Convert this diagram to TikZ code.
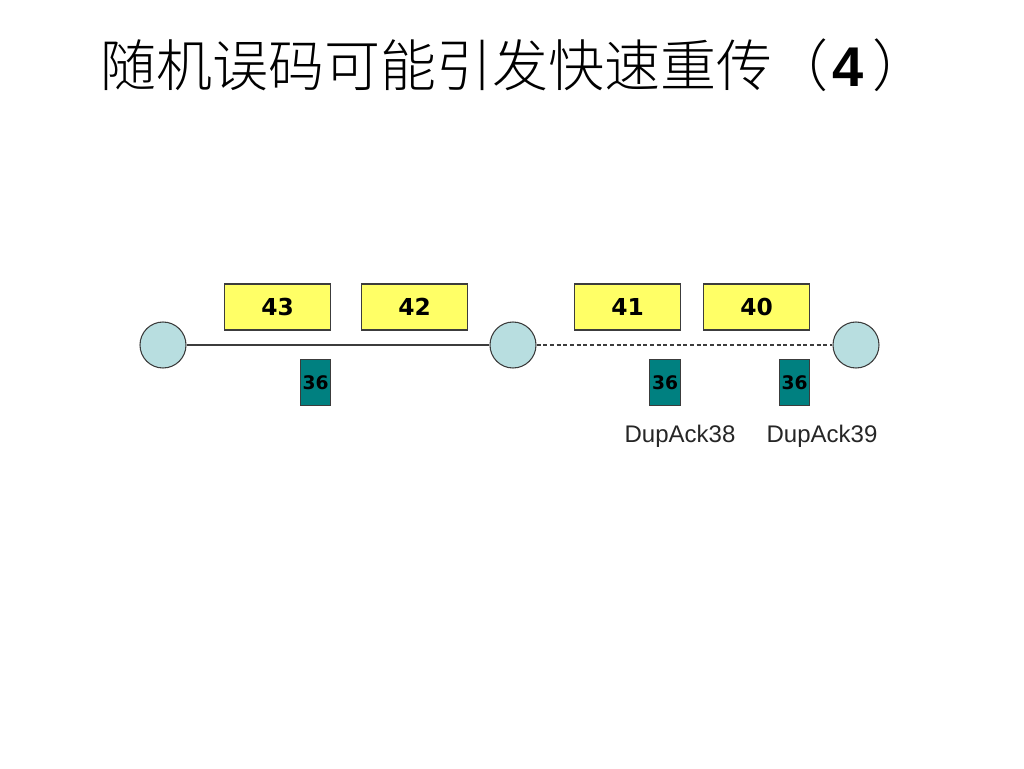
\documentclass[tikz,border=0pt]{standalone}
\usepackage{fontspec}
\setmainfont{Liberation Sans}
\newfontfamily\cjk{Noto Sans CJK SC}[UprightFont=* Light]
\newfontfamily\numfont{DejaVu Sans}
\definecolor{pkt}{RGB}{255,255,102}
\definecolor{ack}{RGB}{0,128,128}
\definecolor{hostc}{RGB}{184,222,224}
\definecolor{lnk}{RGB}{60,60,60}
\begin{document}
\begin{tikzpicture}[x=0.75pt,y=-0.75pt,
  host/.style={circle,draw=lnk,fill=hostc,line width=0.8pt,minimum size=34.5pt,inner sep=0pt},
  pktbox/.style={draw=lnk,fill=pkt,line width=0.8pt,minimum width=80pt,minimum height=34.5pt,inner sep=0pt,font=\numfont\fontsize{17.5pt}{20pt}\selectfont\bfseries},
  ackbox/.style={draw=lnk,fill=ack,line width=0.8pt,minimum width=23pt,minimum height=34pt,inner sep=0pt,font=\numfont\fontsize{14pt}{16pt}\selectfont\bfseries},
  lbl/.style={font=\fontsize{18pt}{21pt}\selectfont,text=black!85}]
\useasboundingbox[fill=white] (0,0) rectangle (1024,768);
\node[font=\cjk\fontsize{42pt}{48pt}\selectfont,anchor=west,inner sep=0pt] (title) at (100,65) {随机误码可能引发快速重传（\hspace{3pt}{\rmfamily\bfseries 4}\hspace{7pt}）};
\node[host] (h1) at (163,345) {};
\node[host] (h2) at (513,345) {};
\node[host] (h3) at (856,345) {};
\draw[lnk,line width=0.8pt] (h1) -- (h2);
\draw[lnk,line width=0.8pt,dash pattern=on 3pt off 2pt] (h2) -- (h3);
\node[pktbox] (p43) at (277.5,307) {43};
\node[pktbox] (p42) at (414.5,307) {42};
\node[pktbox] (p41) at (627.5,307) {41};
\node[pktbox] (p40) at (756.5,307) {40};
\node[ackbox] (a1) at (315.5,382.5) {36};
\node[ackbox] (a2) at (665,382.5) {36};
\node[ackbox] (a3) at (794.5,382.5) {36};
\node[lbl] (d38) at (680,436) {DupAck38};
\node[lbl] (d39) at (822,436) {DupAck39};
\end{tikzpicture}
\end{document}
